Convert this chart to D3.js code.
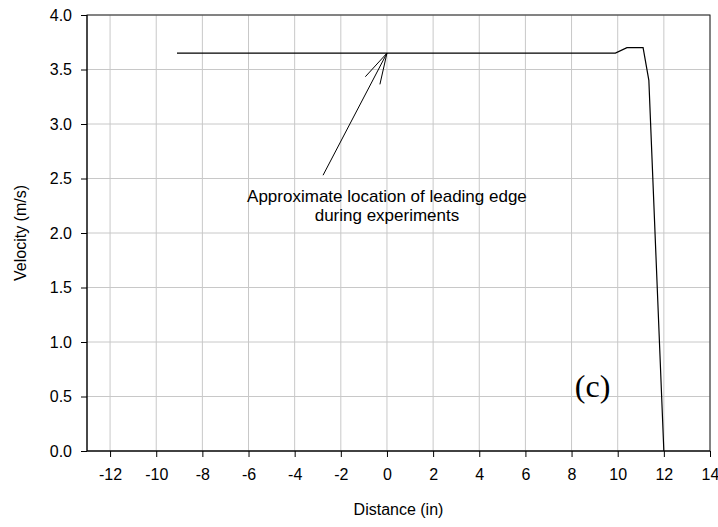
<!DOCTYPE html>
<html>
<head>
<meta charset="utf-8">
<script src="https://cdn.jsdelivr.net/npm/d3@7"></script>
<style>
  body { margin: 0; background: #fff; }
</style>
</head>
<body>
<script>
// velocity profile along the plate
const distance = [-9.1, 9.9, 10.4, 11.1, 11.35, 12.0];
const velocity = [3.65, 3.65, 3.7, 3.7, 3.4, 0.0];

const xTicks = [-12, -10, -8, -6, -4, -2, 0, 2, 4, 6, 8, 10, 12, 14];
const yTicks = [0, 0.5, 1, 1.5, 2, 2.5, 3, 3.5, 4];

// arrow: tail -> tip
const arrowFrom = [-2.77, 2.53];
const arrowTo = [0, 3.65];
const noteLines = ["Approximate location of leading edge", "during experiments"];

const W = 718, H = 527;
const margin = {top: 15, right: 8, bottom: 76, left: 87};
const sans = "Arial, 'Liberation Sans', sans-serif";

const svg = d3.select("body").append("svg")
  .attr("width", W).attr("height", H)
  .attr("font-family", sans);

const x = d3.scaleLinear().domain([-13, 14]).range([margin.left, W - margin.right]);
const y = d3.scaleLinear().domain([0, 4]).range([H - margin.bottom, margin.top]);

// grid
svg.append("g").selectAll("line").data(xTicks).enter().append("line")
  .attr("x1", d => x(d)).attr("x2", d => x(d))
  .attr("y1", y(0)).attr("y2", y(4))
  .attr("stroke", "#c8c8c8").attr("stroke-width", 1);
svg.append("g").selectAll("line").data(yTicks).enter().append("line")
  .attr("x1", x(-13)).attr("x2", x(14))
  .attr("y1", d => y(d)).attr("y2", d => y(d))
  .attr("stroke", "#c8c8c8").attr("stroke-width", 1);

// frame
svg.append("rect")
  .attr("x", x(-13)).attr("y", y(4))
  .attr("width", x(14) - x(-13)).attr("height", y(0) - y(4))
  .attr("fill", "none").attr("stroke", "#222").attr("stroke-width", 1);

const xAxis = svg.append("g")
  .attr("transform", `translate(0,${y(0)})`)
  .call(d3.axisBottom(x).tickValues(xTicks).tickSize(6).tickPadding(12).tickFormat(d => String(d)));
const yAxis = svg.append("g")
  .attr("transform", `translate(${x(-13)},0)`)
  .call(d3.axisLeft(y).tickValues(yTicks).tickSize(6).tickPadding(9).tickFormat(d3.format(".1f")));

[xAxis, yAxis].forEach(g => {
  g.attr("font-family", sans).attr("font-size", 16);
  g.selectAll("text").attr("fill", "#000");
  g.selectAll(".tick line").attr("stroke", "#000");
  g.select(".domain").remove();
});
svg.append("line")
  .attr("x1", x(-13)).attr("x2", x(14)).attr("y1", y(0)).attr("y2", y(0))
  .attr("stroke", "#000");
svg.append("line")
  .attr("x1", x(-13)).attr("x2", x(-13)).attr("y1", y(0)).attr("y2", y(4))
  .attr("stroke", "#000");

// data line
const pts = distance.map((d, i) => [d, velocity[i]]);
svg.append("path")
  .datum(pts)
  .attr("fill", "none").attr("stroke", "#000").attr("stroke-width", 1.2)
  .attr("d", d3.line().x(d => x(d[0])).y(d => y(d[1])));

// arrow
const ax1 = x(arrowFrom[0]), ay1 = y(arrowFrom[1]);
const ax2 = x(arrowTo[0]), ay2 = y(arrowTo[1]);
svg.append("line")
  .attr("x1", ax1).attr("y1", ay1).attr("x2", ax2).attr("y2", ay2)
  .attr("stroke", "#000").attr("stroke-width", 1);
const ang = Math.atan2(ay1 - ay2, ax1 - ax2);
const headLen = 32, spread = 0.26;
[-spread, spread].forEach(s => {
  svg.append("line")
    .attr("x1", ax2).attr("y1", ay2)
    .attr("x2", ax2 + headLen * Math.cos(ang + s))
    .attr("y2", ay2 + headLen * Math.sin(ang + s))
    .attr("stroke", "#000").attr("stroke-width", 1);
});

// note text
svg.append("g").selectAll("text").data(noteLines).enter().append("text")
  .attr("x", x(0))
  .attr("y", (d, i) => y(2.28) + i * 19)
  .attr("text-anchor", "middle")
  .attr("font-size", 17)
  .text(d => d);

// panel label
svg.append("text")
  .attr("x", x(8.91)).attr("y", y(0.5))
  .attr("text-anchor", "middle")
  .attr("font-family", "'Times New Roman', 'Liberation Serif', serif")
  .attr("font-size", 32)
  .text("(c)");

// axis titles
svg.append("text")
  .attr("x", (x(-13) + x(14)) / 2).attr("y", H - 12)
  .attr("text-anchor", "middle").attr("font-size", 16)
  .text("Distance (in)");
svg.append("text")
  .attr("transform", `translate(26,${(y(0) + y(4)) / 2}) rotate(-90)`)
  .attr("text-anchor", "middle").attr("font-size", 16)
  .text("Velocity (m/s)");
</script>
</body>
</html>
